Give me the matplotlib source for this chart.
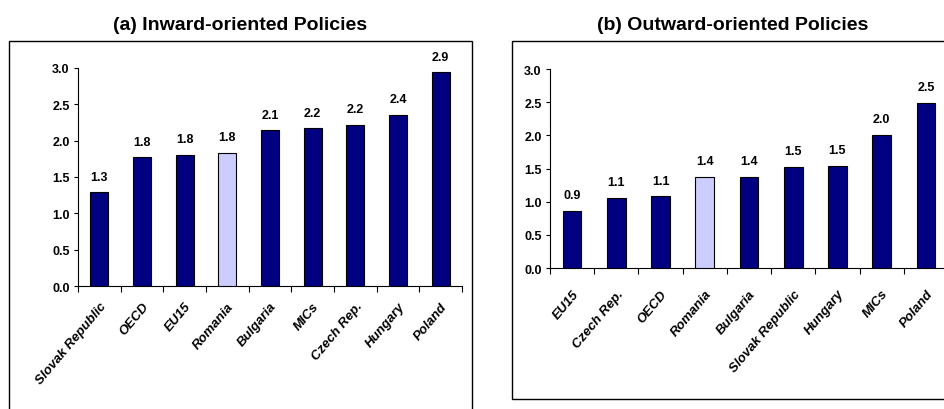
import matplotlib
matplotlib.use("Agg")
import matplotlib.pyplot as plt
from matplotlib.patches import Rectangle

plt.rcParams['font.family'] = ['Liberation Sans', 'DejaVu Sans']

# Panel (a) data
cats_a = ["Slovak Republic", "OECD", "EU15", "Romania", "Bulgaria", "MICs",
          "Czech Rep.", "Hungary", "Poland"]
vals_a = [1.29, 1.77, 1.80, 1.83, 2.14, 2.17, 2.22, 2.36, 2.94]
title_a = "(a) Inward-oriented Policies"

# Panel (b) data
cats_b = ["EU15", "Czech Rep.", "OECD", "Romania", "Bulgaria", "Slovak Republic",
          "Hungary", "MICs", "Poland"]
vals_b = [0.86, 1.06, 1.08, 1.37, 1.37, 1.52, 1.54, 2.01, 2.49]
title_b = "(b) Outward-oriented Policies"

highlight = "Romania"
yticks = [0.0, 0.5, 1.0, 1.5, 2.0, 2.5, 3.0]

W, H = 945, 410
fig = plt.figure(figsize=(W / 100, H / 100), dpi=100)


def px_axes(l, t, r, b):
    return fig.add_axes([l / W, (H - b) / H, (r - l) / W, (b - t) / H])


def frame(l, t, r, b):
    rect = Rectangle((l / W, (H - b) / H), (r - l) / W, (b - t) / H,
                     transform=fig.transFigure, fill=False, edgecolor='black',
                     linewidth=1.0, clip_on=False)
    fig.add_artist(rect)


def draw(ax, cats, vals, pad):
    n = len(cats)
    colors = ['#CCCCFF' if c == highlight else '#000080' for c in cats]
    xs = list(range(n))
    ax.bar(xs, vals, width=0.42, color=colors, edgecolor='black', linewidth=0.8, zorder=3)
    ax.set_xlim(-0.5, n - 0.5)
    ax.set_ylim(0, 3.0)
    ax.set_yticks(yticks)
    ax.set_yticklabels([f"{t:.1f}" for t in yticks], fontsize=9, fontweight='bold')
    ax.tick_params(axis='y', direction='out', length=3, width=0.8, pad=3)
    ax.set_xticks(xs)
    ax.set_xticklabels(cats, rotation=50, ha='right', rotation_mode='anchor',
                       fontsize=9.5, fontweight='bold', fontstyle='italic')
    ax.tick_params(axis='x', which='major', length=0, pad=pad)
    ax.set_xticks([i - 0.5 for i in range(n + 1)], minor=True)
    ax.tick_params(axis='x', which='minor', direction='out', length=4, width=0.8)
    for s in ['top', 'right']:
        ax.spines[s].set_visible(False)
    for s in ['left', 'bottom']:
        ax.spines[s].set_linewidth(0.8)
    ax.patch.set_alpha(0)
    for x, v in zip(xs, vals):
        ax.annotate(f"{v:.1f}", (x, v), xytext=(0, 7), textcoords='offset points',
                    ha='center', va='bottom', fontsize=9, fontweight='bold',
                    annotation_clip=False)


frame(9, 42, 472, 430)
frame(512, 42, 965, 400)

ax_a = px_axes(78, 69, 462, 287)
draw(ax_a, cats_a, vals_a, pad=10)
ax_b = px_axes(550, 70, 948, 269)
draw(ax_b, cats_b, vals_b, pad=14)

fig.text(240.5 / W, 1 - 25 / H, title_a, ha='center', va='center',
         fontsize=14, fontweight='bold')
fig.text(733 / W, 1 - 25 / H, title_b, ha='center', va='center',
         fontsize=14, fontweight='bold')

fig.savefig("out.png", dpi=100)
